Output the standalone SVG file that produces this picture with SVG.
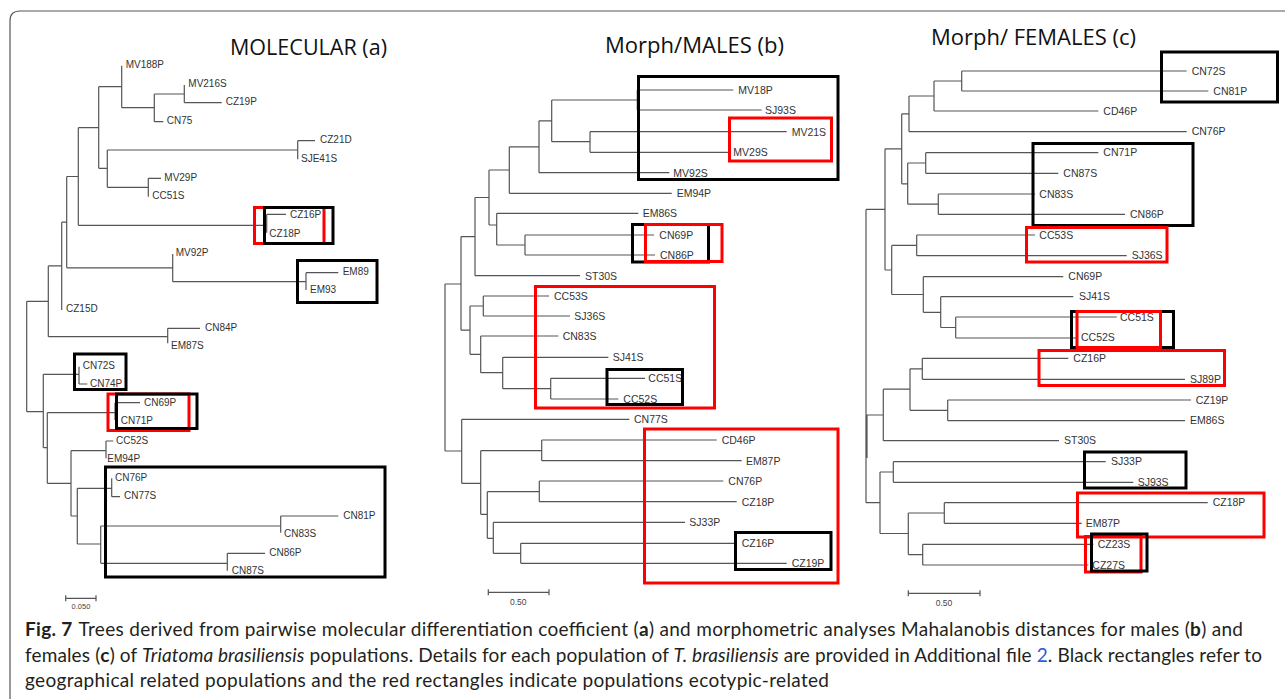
<svg xmlns="http://www.w3.org/2000/svg" width="1285" height="699" viewBox="0 0 1285 699">
<style>
.br{fill:none;stroke:#555;stroke-width:1.2}
.lb{font-family:"Liberation Sans",Arial,sans-serif;fill:#333}
.la{font-size:10px}
.lbb{font-size:10.5px}
.bk{fill:none;stroke:#000;stroke-width:3}
.rd{fill:none;stroke:#f00;stroke-width:3}
.tt{font-family:"Open Sans","Liberation Sans",sans-serif;font-size:22px;fill:#111}
.sc{font-family:"Liberation Sans",Arial,sans-serif;fill:#444;text-anchor:middle}
.cap{font-family:Lato,"Open Sans",sans-serif;font-size:19px;fill:#231f20}
</style>
<rect width="1285" height="699" fill="#fff"/>
<path d="M10 699 V21 Q10 11 20 11 H1285" fill="none" stroke="#555" stroke-width="1.2"/>

<g id="titles">
<text class="tt" x="230" y="55" textLength="157" lengthAdjust="spacingAndGlyphs">MOLECULAR (a)</text>
<text class="tt" x="605" y="52.5" textLength="179" lengthAdjust="spacingAndGlyphs">Morph/MALES (b)</text>
<text class="tt" x="931" y="45" textLength="205" lengthAdjust="spacingAndGlyphs">Morph/ FEMALES (c)</text>
</g>

<g id="connectors">
<path class="br" d="M121.7 65.7V107.7M121.7 107.7H154.3M154.3 94V121.7M154.3 94H184.3M184.3 85V102.7M184.3 102.7H221.7M154.3 121.7H163.3M98.7 86.7V168.3M98.7 86.7H121.7M98.7 168.3H107.3M107.3 150V187.3M107.3 150H297.7M297.7 140.7V159.3M297.7 140.7H315M107.3 187.3H148.3M148.3 178.3V196.7M148.3 178.3H161M78.3 127.7V225.3M78.3 127.7H98.7M78.3 225.3H266.7M266.7 214.3V232.7M266.7 214.3H286M66.7 176.5V267.8M66.7 176.5H78.3M66.7 267.8H172.7M172.7 254V281.7M172.7 281.7H306M306 272.7V290M306 272.7H338.3M61.7 222.2V310M61.7 222.2H66.7M48.3 265.9V336.7M48.3 265.9H61.7M48.3 336.7H167.7M167.7 328.3V343.3M167.7 328.3H200M26.7 301.3V411.7M26.7 301.3H48.3M26.7 411.7H43.3M43.3 374.3V447.7M43.3 374.3H79M79 366.7V384M79 384H87.3M43.3 447.7H47.3M47.3 412.7V483.3M47.3 412.7H115M115 402.7V420M115 402.7H140M47.3 483.3H71M71 450.7V516M71 450.7H106M106 441V458.3M106 441H113.3M71 516H77.3M77.3 488.3V544M77.3 488.3H111.7M111.7 478.3V496.7M111.7 496.7H120M77.3 544H100.7M100.7 526V563.3M100.7 526H280.7M280.7 516V532.7M280.7 516H338.3M100.7 563.3H227.3M227.3 553.3V570.7M227.3 553.3H265"/>
<path class="br" d="M637.3 90V110M637.3 90H733.3M637.3 110H761.7M551.7 100V141.7M551.7 100H637.3M551.7 141.7H590M590 131.7V152.3M590 131.7H786.7M590 152.3H728.3M539 120.85V172.7M539 120.85H551.7M539 172.7H669.3M509.3 146.8V193.3M509.3 146.8H539M509.3 193.3H671.7M489 170V225M489 170H509.3M489 225H496.7M496.7 213.3V245M496.7 213.3H638.3M496.7 245H525M525 235V255M525 235H654M525 255H655M475 197.5V275.7M475 197.5H489M475 275.7H580M461 236.6V330.2M461 236.6H475M445 284V451M445 284H461M445 451H461.7M461 330.2H470M470 306V354.3M470 306H483.3M483.3 296V316M483.3 296H549M483.3 316H570M470 354.3H480.7M480.7 336V372.7M480.7 336H558.3M480.7 372.7H502.7M502.7 357.3V388.7M502.7 357.3H608.3M502.7 388.7H550.7M550.7 378.3V399M550.7 378.3H645M550.7 399H618.3M461.7 419.3V483.3M461.7 419.3H629.3M461.7 483.3H480.7M480.7 450.7V514.3M480.7 450.7H541.7M541.7 440V460.7M541.7 440H716.7M541.7 460.7H741.7M480.7 514.3H487.3M487.3 491.7V538.3M487.3 491.7H539.3M539.3 481V501.7M539.3 481H723.3M539.3 501.7H736.7M487.3 538.3H493.3M493.3 522.3V553.3M493.3 522.3H685M493.3 553.3H520.7M520.7 543.3V563.3M520.7 543.3H736.7M520.7 563.3H786.7"/>
<path class="br" d="M961.7 71V91M961.7 71H1186.7M961.7 91H1208.3M934 81V111M934 81H961.7M934 111H1098.3M909 96V131.7M909 96H934M909 131.7H1186.7M901.7 113.85V183.8M901.7 113.85H909M901.7 183.8H907.7M907.7 163V204.2M907.7 163H925.7M925.7 152.7V173.3M925.7 152.7H1098.3M925.7 173.3H1058.3M907.7 204.2H938.3M938.3 194V214.3M938.3 194H1035M938.3 214.3H1125M885 148.8V270M885 148.8H901.7M885 270H891.7M891.7 245.4V294.5M891.7 245.4H916.7M916.7 235V255.7M916.7 235H1035M916.7 255.7H1126.7M891.7 294.5H923.3M923.3 276.7V312.3M923.3 276.7H1063.3M923.3 312.3H940.7M940.7 296.7V327.5M940.7 296.7H1073.3M940.7 327.5H955.7M955.7 317V338M955.7 317H1116.7M955.7 338H1076.7M866 209.4V502.7M866 209.4H885M866 415H883.3M866 502.7H880M867 415V458M883.3 389.2V440.7M883.3 389.2H910M883.3 440.7H1059M910 368.8V410.3M910 368.8H922.3M922.3 358.3V379.3M922.3 358.3H1068.3M922.3 379.3H1185M910 410.3H947.7M947.7 400V420.7M947.7 400H1191M947.7 420.7H1185M880 472V533.5M880 472H893.3M893.3 461.7V482.3M893.3 461.7H1105.7M893.3 482.3H1133.3M880 533.5H908.3M908.3 513V554.6M908.3 513H944.3M944.3 502.7V523.3M944.3 502.7H1207.7M944.3 523.3H1081.7M908.3 554.6H922.7M922.7 544.3V565M922.7 544.3H1093.3M922.7 565H1088.3"/>
</g>

<g id="scales">
<path class="br" d="M65.7 598.3H96M65.7 595.3V601.3M96 595.3V601.3M488.3 592.3H549M488.3 589.3V595.3M549 589.3V595.3M908.3 593.3H980M908.3 590.3V596.3M980 590.3V596.3"/>
<text class="sc" x="81" y="609" font-size="7.5">0.050</text>
<text class="sc" x="518.3" y="605" font-size="8.5">0.50</text>
<text class="sc" x="944" y="606" font-size="8.5">0.50</text>
</g>

<g id="tree-a" class="lb la">
<g id="a-MV188P"><text x="125.7" y="67.9">MV188P</text></g>
<g id="a-MV216S"><text x="188.3" y="86.9">MV216S</text></g>
<g id="a-CZ19P"><text x="225.7" y="105.3">CZ19P</text></g>
<g id="a-CN75"><text x="166.7" y="124.3">CN75</text></g>
<g id="a-CZ21D"><text x="320" y="142.9">CZ21D</text></g>
<g id="a-SJE41S"><text x="301" y="161.6">SJE41S</text></g>
<g id="a-MV29P"><text x="164.3" y="180.6">MV29P</text></g>
<g id="a-CC51S"><text x="152.3" y="199.3">CC51S</text></g>
<g id="a-CZ16P"><text x="290" y="217.9">CZ16P</text></g>
<g id="a-CZ18P"><text x="269.3" y="236.9">CZ18P</text></g>
<g id="a-MV92P"><text x="175.7" y="255.9">MV92P</text></g>
<g id="a-EM89"><text x="342.7" y="274.6">EM89</text></g>
<g id="a-EM93"><text x="310" y="292.9">EM93</text></g>
<g id="a-CZ15D"><text x="66" y="311.9">CZ15D</text></g>
<g id="a-CN84P"><text x="205" y="331.1">CN84P</text></g>
<g id="a-EM87S"><text x="171" y="349.3">EM87S</text></g>
<g id="a-CN72S"><text x="82.7" y="368.6">CN72S</text></g>
<g id="a-CN74P"><text x="90" y="386.9">CN74P</text></g>
<g id="a-CN69P"><text x="144" y="405.9">CN69P</text></g>
<g id="a-CN71P"><text x="120.7" y="424.3">CN71P</text></g>
<g id="a-CC52S"><text x="116" y="443.6">CC52S</text></g>
<g id="a-EM94P"><text x="107.3" y="462.3">EM94P</text></g>
<g id="a-CN76P"><text x="115" y="480.9">CN76P</text></g>
<g id="a-CN77S"><text x="124" y="499.3">CN77S</text></g>
<g id="a-CN81P"><text x="343.3" y="518.6">CN81P</text></g>
<g id="a-CN83S"><text x="284" y="536.9">CN83S</text></g>
<g id="a-CN86P"><text x="269.3" y="555.9">CN86P</text></g>
<g id="a-CN87S"><text x="231.7" y="574.3">CN87S</text></g>
</g>

<g id="tree-b" class="lb lbb">
<g id="b-MV18P"><text x="738.3" y="93.8">MV18P</text></g>
<g id="b-SJ93S"><text x="765" y="113.8">SJ93S</text></g>
<g id="b-MV21S"><text x="791.7" y="135.5">MV21S</text></g>
<g id="b-MV29S"><text x="733.3" y="156.1">MV29S</text></g>
<g id="b-MV92S"><text x="673.3" y="176.5">MV92S</text></g>
<g id="b-EM94P"><text x="676.7" y="197.1">EM94P</text></g>
<g id="b-EM86S"><text x="642.7" y="217.1">EM86S</text></g>
<g id="b-CN69P"><text x="659.3" y="238.8">CN69P</text></g>
<g id="b-CN86P"><text x="660" y="258.8">CN86P</text></g>
<g id="b-ST30S"><text x="585" y="279.5">ST30S</text></g>
<g id="b-CC53S"><text x="554" y="299.8">CC53S</text></g>
<g id="b-SJ36S"><text x="574.3" y="319.8">SJ36S</text></g>
<g id="b-CN83S"><text x="562.7" y="339.8">CN83S</text></g>
<g id="b-SJ41S"><text x="612.7" y="361.1">SJ41S</text></g>
<g id="b-CC51S"><text x="648.3" y="382.1">CC51S</text></g>
<g id="b-CC52S"><text x="623.3" y="402.8">CC52S</text></g>
<g id="b-CN77S"><text x="634" y="423.1">CN77S</text></g>
<g id="b-CD46P"><text x="721.7" y="443.8">CD46P</text></g>
<g id="b-EM87P"><text x="746" y="464.5">EM87P</text></g>
<g id="b-CN76P"><text x="728.3" y="484.8">CN76P</text></g>
<g id="b-CZ18P"><text x="741.7" y="505.5">CZ18P</text></g>
<g id="b-SJ33P"><text x="689.3" y="526.1">SJ33P</text></g>
<g id="b-CZ16P"><text x="741.7" y="547.1">CZ16P</text></g>
<g id="b-CZ19P"><text x="791.7" y="567.1">CZ19P</text></g>
</g>

<g id="tree-c" class="lb lbb">
<g id="c-CN72S"><text x="1191.7" y="74.7">CN72S</text></g>
<g id="c-CN81P"><text x="1213.3" y="94.7">CN81P</text></g>
<g id="c-CD46P"><text x="1103.3" y="114.7">CD46P</text></g>
<g id="c-CN76P"><text x="1191.7" y="135.4">CN76P</text></g>
<g id="c-CN71P"><text x="1103.3" y="156.4">CN71P</text></g>
<g id="c-CN87S"><text x="1063.3" y="177">CN87S</text></g>
<g id="c-CN83S"><text x="1039.3" y="197.7">CN83S</text></g>
<g id="c-CN86P"><text x="1130" y="218">CN86P</text></g>
<g id="c-CC53S"><text x="1039.3" y="238.7">CC53S</text></g>
<g id="c-SJ36S"><text x="1131.7" y="259.4">SJ36S</text></g>
<g id="c-CN69P"><text x="1068.3" y="280.4">CN69P</text></g>
<g id="c-SJ41S"><text x="1079" y="300.4">SJ41S</text></g>
<g id="c-CC51S"><text x="1120" y="320.7">CC51S</text></g>
<g id="c-CC52S"><text x="1081" y="341.4">CC52S</text></g>
<g id="c-CZ16P"><text x="1073.3" y="362">CZ16P</text></g>
<g id="c-SJ89P"><text x="1190" y="383">SJ89P</text></g>
<g id="c-CZ19P"><text x="1195.7" y="403.7">CZ19P</text></g>
<g id="c-EM86S"><text x="1190" y="424.4">EM86S</text></g>
<g id="c-ST30S"><text x="1064" y="444.4">ST30S</text></g>
<g id="c-SJ33P"><text x="1111" y="465.4">SJ33P</text></g>
<g id="c-SJ93S"><text x="1137.7" y="486">SJ93S</text></g>
<g id="c-CZ18P"><text x="1212.7" y="506.4">CZ18P</text></g>
<g id="c-EM87P"><text x="1085.7" y="527">EM87P</text></g>
<g id="c-CZ23S"><text x="1097.7" y="547.8">CZ23S</text></g>
<g id="c-CZ27S"><text x="1092.3" y="568.5">CZ27S</text></g>
</g>

<g id="boxes">
<rect class="rd" x="254.5" y="207.5" width="69.5" height="36"/>
<rect class="bk" x="264.5" y="207.5" width="68.5" height="36"/>
<rect class="bk" x="297.5" y="260.5" width="79.5" height="42"/>
<rect class="bk" x="74.5" y="354" width="51.5" height="35.5"/>
<rect class="rd" x="108" y="394" width="81" height="36.5"/>
<rect class="bk" x="116.5" y="394" width="80.5" height="34.5"/>
<rect class="bk" x="105.5" y="467" width="279.5" height="110"/>

<rect class="bk" x="638.5" y="76.5" width="199.5" height="103"/>
<rect class="rd" x="729.5" y="118" width="102" height="43"/>
<rect class="bk" x="632.5" y="224.5" width="76" height="37.5"/>
<rect class="rd" x="645.5" y="224.5" width="76.5" height="37"/>
<rect class="rd" x="535.5" y="286.5" width="179" height="121.5"/>
<rect class="bk" x="607" y="369.5" width="75.5" height="35"/>
<rect class="rd" x="644.5" y="429" width="193.5" height="154"/>
<rect class="bk" x="735.5" y="532.5" width="95.5" height="37"/>

<rect class="bk" x="1161.5" y="52" width="116" height="50"/>
<rect class="bk" x="1033" y="143.5" width="160" height="82"/>
<rect class="rd" x="1026.5" y="227.5" width="140.5" height="34.5"/>
<rect class="bk" x="1071.5" y="311.5" width="102" height="36"/>
<rect class="rd" x="1077" y="311.5" width="83.5" height="36"/>
<rect class="rd" x="1039" y="350.5" width="185.5" height="35"/>
<rect class="bk" x="1084.5" y="452" width="101.5" height="36"/>
<rect class="rd" x="1077.5" y="493" width="186.5" height="44"/>
<rect class="rd" x="1085.5" y="536.5" width="55.5" height="35.5"/>
<rect class="bk" x="1091.5" y="534" width="55.5" height="37"/>
</g>

<g id="caption" class="cap">
<text x="25" y="636" textLength="1218" lengthAdjust="spacing"><tspan font-weight="bold">Fig. 7</tspan><tspan dx="6">Trees derived from pairwise molecular differentiation coefficient (</tspan><tspan font-weight="bold">a</tspan>) and morphometric analyses Mahalanobis distances for males (<tspan font-weight="bold">b</tspan>) and</text>
<text x="25" y="662" textLength="1237" lengthAdjust="spacing">females (<tspan font-weight="bold">c</tspan>) of <tspan font-style="italic">Triatoma brasiliensis</tspan> populations. Details for each population of <tspan font-style="italic">T. brasiliensis</tspan> are provided in Additional file <tspan fill="#2a5cdb">2</tspan>. Black rectangles refer to</text>
<text x="25" y="687" textLength="804" lengthAdjust="spacing">geographical related populations and the red rectangles indicate populations ecotypic-related</text>
</g>
</svg>
